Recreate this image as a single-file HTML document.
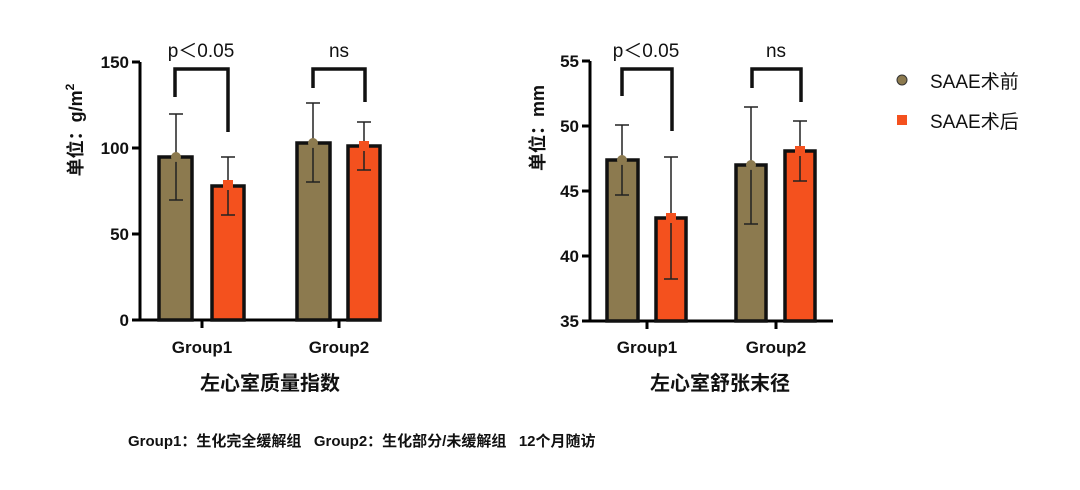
<!DOCTYPE html>
<html><head><meta charset="utf-8"><style>
body{margin:0;background:#fff;width:1080px;height:485px;overflow:hidden}
text{font-family:"Liberation Sans","Noto Sans CJK SC",sans-serif}
</style></head><body>
<svg width="1080" height="485" xmlns="http://www.w3.org/2000/svg">
<g stroke="#000" fill="none" stroke-width="3">
<path d="M140,62 V320 H381"/>
<path d="M132,62H140 M132,148H140 M132,234H140 M132,320H140 M202,320V328 M339,320V328"/>
<path d="M590,61 V321 H833"/>
<path d="M582,61H590 M582,126H590 M582,191H590 M582,256H590 M582,321H590 M647,321V329 M776,321V329"/>
</g>
<g stroke="#111" stroke-width="3.5">
<rect x="159" y="157" width="33" height="163" fill="#8c7a4f"/>
<rect x="212" y="186" width="32" height="134" fill="#f4511e"/>
<rect x="297" y="143" width="33" height="177" fill="#8c7a4f"/>
<rect x="348" y="146" width="32" height="174" fill="#f4511e"/>
<rect x="607" y="160" width="31" height="161" fill="#8c7a4f"/>
<rect x="656" y="218" width="30" height="103" fill="#f4511e"/>
<rect x="736" y="165" width="30" height="156" fill="#8c7a4f"/>
<rect x="785" y="151" width="30" height="170" fill="#f4511e"/>
</g>
<g stroke="#222" stroke-width="1.5" fill="none">
<path d="M176,114V200 M169,114H183 M169,200H183"/>
<path d="M228,157V215 M221,157H235 M221,215H235"/>
<path d="M313,103V182 M306,103H320 M306,182H320"/>
<path d="M364,122V170 M357,122H371 M357,170H371"/>
<path d="M622,125V195 M615,125H629 M615,195H629"/>
<path d="M671,157V279 M664,157H678 M664,279H678"/>
<path d="M751,107V224 M744,107H758 M744,224H758"/>
<path d="M800,121V181 M793,121H807 M793,181H807"/>
</g>
<g>
<circle cx="176" cy="157" r="5" fill="#8c7a4f"/>
<rect x="223" y="180" width="10" height="10" fill="#f4511e"/>
<circle cx="313" cy="143" r="5" fill="#8c7a4f"/>
<rect x="359" y="141" width="10" height="10" fill="#f4511e"/>
<circle cx="622" cy="160" r="5" fill="#8c7a4f"/>
<rect x="666" y="213" width="10" height="10" fill="#f4511e"/>
<circle cx="751" cy="165" r="5" fill="#8c7a4f"/>
<rect x="795" y="146" width="10" height="10" fill="#f4511e"/>
</g>
<g stroke="#111" stroke-width="3.5" fill="none">
<path d="M175,97V69H228V132"/>
<path d="M313,88V69H365V102"/>
<path d="M622,96V69H672V131"/>
<path d="M752,88V69H801V102"/>
</g>
<g font-size="19" text-anchor="middle" fill="#111">
<text x="201" y="57">p＜0.05</text>
<text x="339" y="57">ns</text>
<text x="646" y="57">p＜0.05</text>
<text x="776" y="57">ns</text>
</g>
<g font-size="17" font-weight="bold" text-anchor="end" fill="#111">
<text x="129" y="68">150</text><text x="129" y="154">100</text><text x="129" y="240">50</text><text x="129" y="326">0</text>
<text x="579" y="67">55</text><text x="579" y="132">50</text><text x="579" y="197">45</text><text x="579" y="262">40</text><text x="579" y="327">35</text>
</g>
<g font-size="17" font-weight="bold" text-anchor="middle" fill="#111">
<text x="202" y="353">Group1</text><text x="339" y="353">Group2</text>
<text x="647" y="353">Group1</text><text x="776" y="353">Group2</text>
<text x="270" y="390" font-size="20">左心室质量指数</text>
<text x="720" y="390" font-size="20">左心室舒张末径</text>
<text transform="translate(82,130) rotate(-90)" font-size="18">单位：g/m<tspan font-size="12" dy="-8">2</tspan></text>
<text transform="translate(544,128) rotate(-90)" font-size="18">单位：mm</text>
</g>
<circle cx="902" cy="80" r="5" fill="#8c7a4f" stroke="#333" stroke-width="1"/>
<rect x="897" y="115" width="10" height="10" fill="#f4511e"/>
<g font-size="19" fill="#111">
<text x="930" y="88">SAAE术前</text>
<text x="930" y="128">SAAE术后</text>
</g>
<text x="128" y="446" font-size="15" font-weight="bold" fill="#111" xml:space="preserve">Group1：生化完全缓解组   Group2：生化部分/未缓解组   12个月随访</text>
</svg>
</body></html>
